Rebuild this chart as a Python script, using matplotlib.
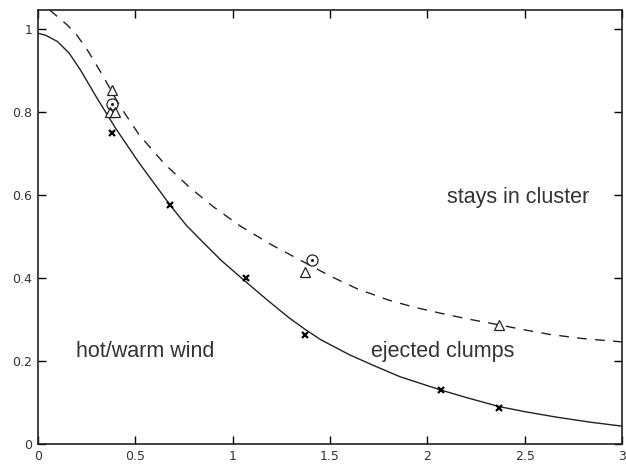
import matplotlib
matplotlib.use("Agg")
import matplotlib.pyplot as plt

# curves
solid_x = [0.0, 0.04, 0.1, 0.16, 0.22, 0.30, 0.40, 0.52, 0.68, 0.76, 0.85, 0.94,
           1.04, 1.17, 1.29, 1.37, 1.45, 1.60, 1.73, 1.86, 2.07, 2.2, 2.37, 2.5,
           2.66, 2.83, 3.0]
solid_y = [0.99, 0.985, 0.97, 0.942, 0.90, 0.836, 0.76, 0.677, 0.575, 0.528, 0.485, 0.443,
           0.402, 0.35, 0.304, 0.277, 0.252, 0.215, 0.188, 0.162, 0.13, 0.112, 0.09, 0.078,
           0.065, 0.053, 0.043]
dash_x = [0.06, 0.1, 0.15, 0.2, 0.26, 0.33, 0.42, 0.52, 0.65, 0.78, 0.9, 1.04, 1.2,
          1.34, 1.5, 1.64, 1.8, 1.93, 2.06, 2.2, 2.37, 2.5, 2.63, 2.8, 3.0]
dash_y = [1.046, 1.03, 1.01, 0.985, 0.945, 0.89, 0.815, 0.745, 0.675, 0.618, 0.572, 0.525, 0.48,
          0.445, 0.405, 0.374, 0.347, 0.33, 0.316, 0.302, 0.287, 0.275, 0.264, 0.254, 0.246]

# data points
star_x = [0.38, 0.68, 1.07, 1.37, 2.07, 2.37]
star_y = [0.75, 0.576, 0.40, 0.262, 0.13, 0.087]
tri_x = [0.38, 0.37, 0.395, 1.37, 2.37]
tri_y = [0.853, 0.80, 0.80, 0.415, 0.287]
circ_x = [0.38, 1.405]
circ_y = [0.82, 0.443]

ink = "#222222"

fig = plt.figure(figsize=(6.26, 4.65), dpi=100)
ax = fig.add_axes([0.0607, 0.0452, 0.9329, 0.9333])

ax.plot(solid_x, solid_y, "-", color=ink, lw=1.0)
ax.plot(dash_x, dash_y, color=ink, lw=1.0, dashes=(7, 6))

ax.plot(star_x, star_y, "x", color="black", ms=5, mew=1.6, ls="none")
ax.plot(tri_x, tri_y, "^", mfc="white", mec=ink, ms=7.5, mew=0.9, ls="none")
ax.plot(circ_x, circ_y, "o", mfc="none", mec=ink, ms=8, mew=0.9, ls="none")
ax.plot(circ_x, circ_y, ".", color=ink, ms=2.5, ls="none")

txt = dict(fontsize=15.5, color="#333333", family=["Liberation Sans", "DejaVu Sans"],
           va="center", ha="left")
ax.text(2.1, 0.595, "stays in cluster", **txt)
ax.text(1.71, 0.222, "ejected clumps", **txt)
ax.text(0.195, 0.222, "hot/warm wind", **txt)

ax.set_xlim(0, 3)
ax.set_ylim(0, 1.046)
ax.set_xticks([0, 0.5, 1, 1.5, 2, 2.5, 3])
ax.set_xticklabels(["0", "0.5", "1", "1.5", "2", "2.5", "3"])
ax.set_yticks([0, 0.2, 0.4, 0.6, 0.8, 1])
ax.set_yticklabels(["0", "0.2", "0.4", "0.6", "0.8", "1"])
ax.tick_params(direction="in", length=6, width=1.0, top=True, right=True,
               labelsize=9, labelcolor="#333333", pad=4)
for s in ax.spines.values():
    s.set_linewidth(1.2)
    s.set_color(ink)

fig.savefig("out.png", dpi=100)
